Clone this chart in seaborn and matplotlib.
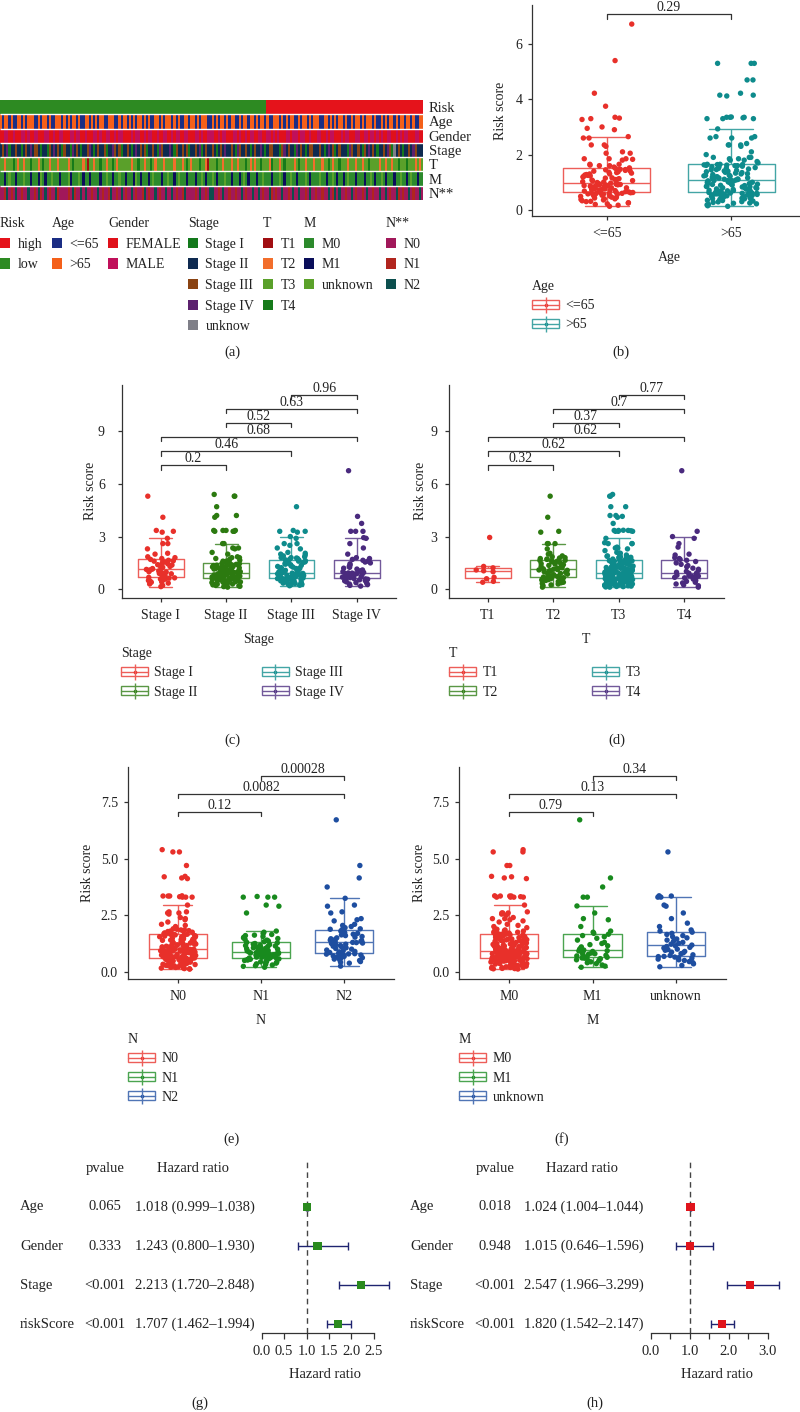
import numpy as np
import pandas as pd
import seaborn as sns
import matplotlib
matplotlib.use("Agg")
import matplotlib.pyplot as plt
from matplotlib.colors import ListedColormap, to_rgb
from matplotlib.patches import Patch
from matplotlib.lines import Line2D
from matplotlib.legend_handler import HandlerTuple
from matplotlib.transforms import blended_transform_factory


def nums(s):
    return [float(v) for v in s.split()]


def codes(s):
    return "".join(s.split())


# ---------------- data: (a) annotation heatmap, 200 samples sorted by risk ----------------
n_low, n_high = 126, 74
risk_row = "l" * n_low + "h" * n_high
age_row = codes("""oyooyoyyoo yoyoooyyoy ooyoyyoooy oyoyooyoyy ooyoyoyooy yoooyyoyoo yoyoyooyoy
oyyooyoyoo oyoyoyyooy ooyoyoooyy oyoyooyoyo oyyoyooyoo yoyooyoyyo ooyoyoyooy yoyooyoyoo
oyyooyoyoy ooyoyyoyoo yoyoooyoyy oyoyooyoyo oyooyoyyoo""")
gender_row = codes("""ffmmffmfff mmfmffmmff fmmffmffmm fffmmfmmff mfffmmfmff mmffmfmmff ffmfmmffmf
mmffmffmmf fmfmmffmmf ffmmfmffmm mffmfmmfff mmfmffmfmm ffmmffmmfm fmfffmmfmm mfmmffmfff
mmffmfmmff fmfmmfffmm ffmmfmmfmf mffmmffmfm fmmfffmmff""")
stage_row = codes("""2324122322 1232423321 2213242321 3221423212 2342123223 1224323122 3212423231
2232143222 4213223231 2232412322 3212324223 2143223212 3224212332 2213423221 4232123322
2321242312 3222143223 2132423212 232431u232 1223243222""")
t_row = codes("""3323334323 3233433323 4332333233 3323433332 3133233433 2334323333 3323343323
3432333233 3323332343 2333433213 3343323332 3323334323 2334333243 3323433332 3433233323
3323343233 4333233323 3233433332 3323323343 3343332323""")
m_row = codes("""0010u00100 0u0010001u 0100u00010 00u1000u01 0010000100 u00100u001 0001u01000
10u000100u 0010u00010 00100u0100 u01000u001 00010u0100 0100u00010 00u0100u00 1000u01000
0u00100u01 0010u00010 00100u0100 u01000100u 0010u00100""")
n_row = codes("""0012010200 1002001021 0201002100 0010210020 2001002010 0120010201 0020100120
1002010020 0201001200 0010200102 2001020010 0100201002 0020100210 1002001020 0200102001
0010020120 2001002010 0102001002 0020100210 1002010020""")

annot_names = ["Risk", "Age", "Gender", "Stage", "T", "M", "N**"]
annot_rows = [risk_row, age_row, gender_row, stage_row, t_row, m_row, n_row]
annot_keys = ["hl", "yo", "fm", "1234u", "1234", "01u", "012"]
annot_labels = [["high", "low"], ["<=65", ">65"], ["FEMALE", "MALE"],
                ["Stage I", "Stage II", "Stage III", "Stage IV", "unknow"],
                ["T1", "T2", "T3", "T4"], ["M0", "M1", "unknown"], ["N0", "N1", "N2"]]
annot_colors = [["#E5131B", "#2D8A22"], ["#1B2D84", "#F4601A"], ["#E0101A", "#C0105A"],
                ["#13791C", "#0E2A50", "#8A4312", "#5C216E", "#7F7F88"],
                ["#A10E12", "#F26E2C", "#5AA02A", "#167A1A"],
                ["#2C8A2C", "#0A0E5A", "#5BA22A"], ["#A1185A", "#B1251E", "#0C4F4E"]]

# ---------------- data: risk scores per group ----------------
age_groups = ["<=65", ">65"]
score_le65 = nums("""0.13 0.17 0.2 0.22 0.25 0.26 0.3 0.31 0.33 0.36 0.38 0.4 0.4 0.43 0.45 0.46 0.49 0.5
0.52 0.53 0.55 0.56 0.57 0.58 0.59 0.6 0.6 0.61 0.62 0.62 0.63 0.64 0.65 0.66 0.66 0.68 0.7 0.71
0.71 0.73 0.74 0.76 0.77 0.78 0.79 0.8 0.8 0.82 0.84 0.85 0.85 0.86 0.87 0.88 0.9 0.9 0.91 0.92
0.92 0.92 0.93 0.94 0.96 0.97 0.99 1.01 1.02 1.05 1.06 1.08 1.1 1.1 1.13 1.15 1.16 1.19 1.2 1.23
1.25 1.26 1.28 1.3 1.3 1.33 1.35 1.36 1.38 1.4 1.41 1.43 1.45 1.45 1.46 1.47 1.5 1.52 1.55 1.6
1.6 1.62 1.65 1.65 1.8 1.83 1.85 1.85 1.85 2.05 2.05 2.1 2.3 2.35 2.35 2.6 2.6 2.65 2.9 2.95 3.0
3.27 3.3 3.32 3.35 3.75 4.22 5.4 6.72""")
score_gt65 = nums("""0.13 0.15 0.18 0.2 0.22 0.24 0.25 0.27 0.29 0.3 0.32 0.34 0.35 0.37 0.38 0.4 0.41
0.42 0.44 0.45 0.46 0.48 0.49 0.5 0.51 0.52 0.53 0.54 0.55 0.56 0.57 0.58 0.58 0.59 0.6 0.6 0.61
0.61 0.62 0.62 0.63 0.64 0.65 0.66 0.67 0.68 0.69 0.7 0.71 0.72 0.74 0.75 0.76 0.78 0.79 0.8 0.81
0.83 0.84 0.85 0.86 0.88 0.89 0.9 0.92 0.93 0.94 0.95 0.96 0.98 0.99 1.0 1.01 1.02 1.03 1.04 1.05
1.06 1.06 1.07 1.08 1.1 1.11 1.12 1.14 1.15 1.16 1.18 1.19 1.2 1.22 1.23 1.25 1.26 1.28 1.3 1.31
1.33 1.35 1.36 1.38 1.4 1.41 1.43 1.45 1.46 1.48 1.5 1.51 1.53 1.55 1.56 1.58 1.6 1.6 1.61 1.62
1.63 1.64 1.64 1.65 1.65 1.7 1.75 1.8 1.8 1.85 1.85 1.9 1.9 1.9 2.0 2.1 2.3 2.35 2.35 2.35 2.4
2.6 2.6 2.6 2.65 2.65 2.93 3.3 3.3 3.3 3.33 3.35 3.35 3.35 3.36 4.12 4.15 4.15 4.22 4.7 4.7 5.3
5.3 5.3""")

stage_groups = ["Stage I", "Stage II", "Stage III", "Stage IV"]
score_stage1 = nums("""0.15 0.22 0.3 0.35 0.4 0.42 0.47 0.5 0.55 0.58 0.6 0.63 0.65 0.68 0.7 0.74 0.78 0.8
0.85 0.88 0.9 0.95 0.98 1.0 1.04 1.08 1.1 1.13 1.15 1.18 1.22 1.25 1.3 1.33 1.38 1.4 1.45 1.5 1.55
1.6 1.62 1.65 1.7 1.75 1.8 1.85 2.0 2.05 2.3 2.6 2.6 2.9 3.25 3.3 3.35 4.1 5.3""")
score_stage2 = nums("""0.12 0.15 0.17 0.2 0.22 0.25 0.27 0.29 0.3 0.33 0.35 0.36 0.38 0.4 0.42 0.43 0.45
0.47 0.48 0.5 0.51 0.53 0.54 0.55 0.56 0.57 0.58 0.59 0.6 0.61 0.62 0.63 0.64 0.66 0.67 0.68 0.69
0.7 0.71 0.72 0.74 0.75 0.76 0.77 0.78 0.79 0.8 0.81 0.82 0.83 0.85 0.86 0.87 0.88 0.89 0.9 0.9
0.91 0.92 0.93 0.94 0.96 0.97 0.99 1.0 1.02 1.04 1.05 1.07 1.09 1.1 1.12 1.14 1.15 1.17 1.19 1.2
1.22 1.25 1.27 1.29 1.3 1.32 1.35 1.37 1.39 1.4 1.42 1.45 1.48 1.5 1.55 1.6 1.6 1.65 1.7 1.75 1.8
1.8 1.85 2.0 2.1 2.3 2.35 2.35 2.6 2.6 3.3 3.3 3.3 3.35 3.35 3.35 3.35 4.1 4.2 4.2 4.7 5.3 5.3
5.4""")
score_stage3 = nums("""0.2 0.23 0.26 0.28 0.3 0.33 0.35 0.37 0.39 0.41 0.43 0.45 0.47 0.48 0.5 0.52 0.53
0.55 0.56 0.58 0.59 0.6 0.61 0.62 0.63 0.64 0.65 0.66 0.68 0.69 0.7 0.72 0.73 0.74 0.76 0.77 0.78
0.8 0.81 0.82 0.84 0.85 0.86 0.87 0.88 0.89 0.9 0.91 0.92 0.93 0.95 0.98 1.0 1.03 1.06 1.08 1.1
1.13 1.16 1.18 1.2 1.23 1.26 1.3 1.33 1.36 1.4 1.43 1.46 1.5 1.53 1.56 1.6 1.62 1.65 1.68 1.7 1.72
1.75 1.78 1.8 1.8 1.85 1.9 1.95 2.0 2.05 2.1 2.3 2.35 2.5 2.6 2.6 2.9 3.0 3.25 3.3 3.3 3.35 4.7""")
score_stage4 = nums("""0.18 0.22 0.27 0.3 0.35 0.38 0.42 0.45 0.48 0.5 0.54 0.57 0.59 0.61 0.63 0.66 0.69
0.72 0.74 0.77 0.8 0.82 0.85 0.87 0.89 0.9 0.92 0.93 0.96 1.0 1.05 1.1 1.15 1.2 1.25 1.3 1.38 1.45
1.5 1.55 1.6 1.65 1.7 1.75 1.8 2.0 2.35 2.6 2.9 2.94 3.3 3.3 3.3 3.75 4.15 6.75""")

t_groups = ["T1", "T2", "T3", "T4"]
score_t1 = nums("0.4 0.45 0.6 0.68 1.0 1.05 1.1 1.22 1.3 2.95")
score_t2 = nums("""0.12 0.2 0.25 0.3 0.33 0.37 0.4 0.44 0.47 0.5 0.53 0.55 0.58 0.6 0.62 0.64 0.66 0.68
0.7 0.73 0.76 0.8 0.83 0.86 0.9 0.93 0.96 1.0 1.03 1.06 1.08 1.1 1.12 1.14 1.16 1.2 1.23 1.26 1.3
1.33 1.36 1.4 1.43 1.46 1.5 1.53 1.56 1.6 1.62 1.64 1.65 1.7 1.72 1.75 1.78 1.8 1.85 1.9 2.0 2.05
2.3 2.6 2.6 2.6 3.25 3.3 4.1 5.3""")
score_t3 = nums("""0.12 0.13 0.15 0.16 0.18 0.19 0.2 0.22 0.23 0.25 0.26 0.27 0.29 0.3 0.31 0.33 0.34
0.35 0.37 0.38 0.39 0.4 0.42 0.43 0.44 0.45 0.46 0.48 0.49 0.5 0.51 0.52 0.53 0.54 0.55 0.56 0.56
0.57 0.58 0.58 0.59 0.6 0.6 0.61 0.61 0.62 0.62 0.63 0.64 0.64 0.65 0.66 0.66 0.67 0.68 0.69 0.7
0.7 0.71 0.72 0.73 0.73 0.74 0.75 0.76 0.77 0.78 0.78 0.79 0.8 0.81 0.82 0.83 0.83 0.84 0.85 0.86
0.87 0.87 0.88 0.89 0.89 0.9 0.9 0.91 0.91 0.92 0.92 0.93 0.93 0.94 0.95 0.97 0.98 1.0 1.01 1.03
1.04 1.06 1.07 1.09 1.1 1.12 1.13 1.15 1.16 1.18 1.19 1.21 1.22 1.24 1.25 1.27 1.28 1.3 1.32 1.33
1.35 1.37 1.38 1.4 1.42 1.44 1.45 1.47 1.49 1.5 1.52 1.54 1.56 1.58 1.6 1.62 1.63 1.65 1.65 1.66
1.68 1.7 1.72 1.75 1.78 1.8 1.8 1.82 1.85 1.88 1.9 1.95 2.0 2.05 2.1 2.2 2.3 2.35 2.35 2.4 2.6 2.6
2.6 2.65 2.9 3.3 3.3 3.3 3.33 3.35 3.35 3.35 3.36 3.75 4.1 4.15 4.2 4.2 4.7 4.7 5.3 5.3 5.4""")
score_t4 = nums("""0.12 0.2 0.25 0.3 0.36 0.4 0.45 0.5 0.55 0.58 0.61 0.65 0.68 0.72 0.75 0.78 0.8 0.84
0.86 0.89 0.91 0.93 0.97 1.02 1.08 1.14 1.2 1.28 1.35 1.42 1.5 1.58 1.65 1.7 1.75 1.8 1.95 2.0 2.4
2.6 2.9 3.0 3.3 6.75""")

n_groups = ["N0", "N1", "N2"]
score_n0 = nums("""0.12 0.13 0.14 0.16 0.17 0.19 0.2 0.22 0.23 0.25 0.26 0.28 0.29 0.3 0.32 0.33 0.35
0.36 0.37 0.39 0.4 0.41 0.43 0.44 0.45 0.47 0.48 0.49 0.5 0.51 0.52 0.53 0.54 0.55 0.56 0.57 0.58
0.58 0.59 0.6 0.6 0.61 0.61 0.62 0.63 0.64 0.65 0.66 0.67 0.68 0.69 0.7 0.71 0.72 0.73 0.74 0.75
0.76 0.77 0.78 0.79 0.8 0.81 0.82 0.83 0.84 0.85 0.86 0.87 0.88 0.89 0.9 0.91 0.92 0.93 0.94 0.95
0.96 0.97 0.97 0.98 0.99 0.99 1.0 1.0 1.01 1.01 1.02 1.03 1.05 1.06 1.08 1.09 1.1 1.12 1.13 1.15
1.16 1.18 1.19 1.2 1.22 1.23 1.25 1.27 1.28 1.3 1.31 1.33 1.34 1.36 1.38 1.39 1.4 1.42 1.44 1.45
1.47 1.49 1.5 1.52 1.54 1.55 1.57 1.58 1.6 1.6 1.61 1.62 1.63 1.65 1.66 1.66 1.67 1.68 1.7 1.72
1.75 1.75 1.78 1.8 1.8 1.82 1.85 1.85 1.88 1.9 2.0 2.05 2.1 2.2 2.3 2.35 2.4 2.55 2.6 2.6 2.65 2.65
2.95 3.3 3.3 3.3 3.32 3.35 3.35 3.35 3.36 4.12 4.15 4.2 4.22 4.7 5.3 5.3 5.4""")
score_n1 = nums("""0.2 0.24 0.27 0.3 0.33 0.35 0.38 0.4 0.42 0.44 0.46 0.48 0.5 0.52 0.54 0.55 0.57 0.58
0.59 0.6 0.61 0.62 0.64 0.65 0.67 0.68 0.7 0.71 0.72 0.74 0.75 0.76 0.78 0.79 0.8 0.81 0.82 0.83
0.84 0.85 0.86 0.87 0.88 0.9 0.92 0.94 0.96 0.98 1.0 1.02 1.04 1.06 1.08 1.1 1.12 1.14 1.16 1.18
1.2 1.22 1.25 1.28 1.3 1.33 1.36 1.4 1.43 1.47 1.5 1.53 1.56 1.6 1.62 1.65 1.7 1.75 1.8 2.6 2.9
2.95 3.3 3.3 3.3 3.33""")
score_n2 = nums("""0.25 0.38 0.42 0.45 0.5 0.53 0.56 0.6 0.62 0.65 0.68 0.7 0.72 0.74 0.76 0.78 0.79 0.8
0.82 0.85 0.88 0.9 0.93 0.96 1.0 1.03 1.06 1.1 1.13 1.16 1.19 1.22 1.25 1.27 1.29 1.3 1.32 1.35
1.38 1.4 1.43 1.46 1.5 1.53 1.56 1.6 1.63 1.66 1.7 1.73 1.76 1.8 1.83 1.86 1.88 1.9 1.95 2.0 2.05
2.1 2.25 2.3 2.35 2.6 2.65 2.9 2.95 3.25 3.75 4.15 4.7 6.72""")

m_groups = ["M0", "M1", "unknown"]
score_m0 = nums("""0.12 0.13 0.14 0.15 0.16 0.18 0.19 0.2 0.21 0.22 0.24 0.25 0.26 0.27 0.28 0.3 0.31
0.32 0.33 0.34 0.36 0.37 0.38 0.39 0.4 0.41 0.42 0.43 0.44 0.45 0.46 0.47 0.48 0.49 0.5 0.51 0.52
0.53 0.54 0.55 0.56 0.57 0.57 0.58 0.59 0.59 0.6 0.6 0.61 0.62 0.62 0.63 0.63 0.64 0.65 0.65 0.66
0.67 0.67 0.68 0.69 0.69 0.7 0.71 0.71 0.72 0.73 0.73 0.74 0.75 0.75 0.76 0.77 0.77 0.78 0.79 0.79
0.8 0.81 0.81 0.82 0.83 0.83 0.84 0.85 0.85 0.86 0.87 0.87 0.88 0.89 0.89 0.9 0.9 0.91 0.91 0.92
0.92 0.93 0.93 0.94 0.95 0.97 0.98 0.99 1.01 1.02 1.04 1.05 1.07 1.08 1.1 1.11 1.12 1.14 1.15 1.17
1.18 1.2 1.21 1.23 1.24 1.26 1.27 1.29 1.3 1.32 1.33 1.35 1.36 1.38 1.39 1.41 1.42 1.44 1.45 1.47
1.48 1.5 1.51 1.53 1.54 1.56 1.57 1.59 1.6 1.61 1.63 1.64 1.66 1.66 1.67 1.68 1.7 1.71 1.73 1.75
1.77 1.8 1.8 1.82 1.85 1.85 1.88 1.9 1.95 2.0 2.05 2.1 2.2 2.25 2.3 2.35 2.35 2.4 2.5 2.55 2.6 2.6
2.6 2.65 2.95 3.3 3.3 3.3 3.3 3.32 3.35 3.35 3.35 3.36 4.12 4.15 4.2 4.22 4.7 4.7 5.3 5.3 5.4""")
score_m1 = nums("""0.2 0.25 0.3 0.36 0.4 0.44 0.48 0.5 0.53 0.56 0.58 0.6 0.61 0.64 0.67 0.7 0.73 0.76
0.78 0.8 0.83 0.86 0.88 0.9 0.92 0.93 0.96 1.0 1.05 1.1 1.15 1.2 1.25 1.3 1.4 1.48 1.55 1.6 1.66
1.7 1.75 1.8 2.0 2.3 2.35 2.6 2.91 3.3 3.3 3.75 4.15 6.72""")
score_munk = nums("""0.22 0.28 0.35 0.4 0.45 0.5 0.53 0.56 0.6 0.62 0.65 0.67 0.68 0.72 0.75 0.8 0.84
0.87 0.9 0.95 0.98 1.0 1.05 1.08 1.12 1.15 1.18 1.22 1.26 1.3 1.35 1.4 1.45 1.5 1.55 1.6 1.65 1.7
1.75 1.8 1.85 2.0 2.15 2.35 2.6 2.9 2.95 3.3 3.3 3.35 3.36 5.3""")

# pairwise p-values (group i, group j, label)
age_tests = [(0, 1, "0.29")]
stage_tests = [(0, 1, "0.2"), (0, 2, "0.46"), (0, 3, "0.68"), (1, 2, "0.52"), (1, 3, "0.63"), (2, 3, "0.96")]
t_tests = [(0, 1, "0.32"), (0, 2, "0.62"), (0, 3, "0.62"), (1, 2, "0.37"), (1, 3, "0.7"), (2, 3, "0.77")]
n_tests = [(0, 1, "0.12"), (0, 2, "0.0082"), (1, 2, "0.00028")]
m_tests = [(0, 1, "0.79"), (0, 2, "0.13"), (1, 2, "0.34")]

# ---------------- data: Cox regression ----------------
cox_vars = ["Age", "Gender", "Stage", "riskScore"]
uni_p = ["0.065", "0.333", "<0.001", "<0.001"]
uni_hr = [1.018, 1.243, 2.213, 1.707]
uni_lo = [0.999, 0.800, 1.720, 1.462]
uni_hi = [1.038, 1.930, 2.848, 1.994]
multi_p = ["0.018", "0.948", "<0.001", "<0.001"]
multi_hr = [1.024, 1.015, 2.547, 1.820]
multi_lo = [1.004, 0.646, 1.966, 1.542]
multi_hi = [1.044, 1.596, 3.299, 2.147]

# ---------------- style ----------------
sns.set_theme(style="ticks")
plt.rcParams["font.family"] = ["Liberation Serif", "DejaVu Serif"]
plt.rcParams["font.size"] = 10
plt.rcParams["axes.edgecolor"] = "#333333"
plt.rcParams["axes.linewidth"] = 0.9
plt.rcParams["xtick.color"] = "#333333"
plt.rcParams["ytick.color"] = "#333333"
plt.rcParams["xtick.labelcolor"] = "#222222"
plt.rcParams["ytick.labelcolor"] = "#222222"
plt.rcParams["text.color"] = "#222222"
plt.rcParams["axes.labelcolor"] = "#222222"

W, H = 800, 1412
fig = plt.figure(figsize=(W / 100, H / 100), dpi=100)
fig.patch.set_facecolor("white")
np.random.seed(3)


def box(l, t, r, b):
    return [l / W, 1 - b / H, (r - l) / W, (b - t) / H]


def lighten(c, f=0.22):
    r, g, b = to_rgb(c)
    return (r + (1 - r) * f, g + (1 - g) * f, b + (1 - b) * f)


def caption(x, y, s):
    fig.text(x / W, 1 - y / H, s, ha="center", va="center", fontsize=10.5)


# ---------------- (a) heatmap ----------------
all_colors = [c for cols in annot_colors for c in cols]
mat, off = [], 0
for row, keys, cols in zip(annot_rows, annot_keys, annot_colors):
    mat.append([off + keys.index(ch) for ch in row])
    off += len(cols)
mat = np.array(mat)

ax = fig.add_axes(box(0, 100, 423, 200))
sns.heatmap(mat, ax=ax, cmap=ListedColormap(all_colors), vmin=-0.5, vmax=len(all_colors) - 0.5,
            cbar=False, xticklabels=False, yticklabels=annot_names)
ax.hlines(np.arange(1, len(annot_names)), 0, mat.shape[1], colors="white", lw=1)
ax.yaxis.tick_right()
ax.tick_params(axis="y", length=0, pad=4, labelsize=10.5, labelrotation=0)
ax.tick_params(axis="x", length=0)

leg_x = [0, 52, 108, 188, 263, 304, 386]
for name, labels, cols, lx in zip(annot_names, annot_labels, annot_colors, leg_x):
    handles = [Patch(facecolor=c, edgecolor="none") for c in cols]
    fig.legend(handles, labels, title=name, loc="upper left",
               bbox_to_anchor=(lx / W, 1 - 217 / H), bbox_transform=fig.transFigure,
               frameon=False, borderpad=0, borderaxespad=0, handlelength=0.75,
               handleheight=0.75, handletextpad=0.5, labelspacing=0.55,
               fontsize=10, title_fontsize=10, alignment="left")
caption(232, 352, "(a)")


# ---------------- (b)-(f) box plots ----------------
def box_panel(rect, groups, values, name, colors, ylim, yticks, yfmt, tests, leg_xy,
              ncol=1, colspace=2.0, ypad=4, ylabpad=6):
    df = pd.DataFrame({name: np.repeat(groups, [len(v) for v in values]),
                       "score": np.concatenate(values)})
    pal = dict(zip(groups, colors))
    bpal = {g: lighten(c) for g, c in pal.items()}
    ax = fig.add_axes(rect)
    sns.boxplot(data=df, x=name, y="score", hue=name, order=groups, hue_order=groups,
                palette=bpal, fill=False, width=0.7, showfliers=False, linewidth=1.0,
                legend=False, ax=ax)
    sns.stripplot(data=df, x=name, y="score", hue=name, order=groups, hue_order=groups,
                  palette=pal, jitter=0.22, size=3.9, linewidth=0, legend=False, ax=ax,
                  zorder=3)
    ax.set_xlim(-0.6, len(groups) - 0.4)
    ax.set_ylim(*ylim)
    ax.set_yticks(yticks)
    ax.set_yticklabels([yfmt.format(t) for t in yticks])
    sns.despine(ax=ax)
    ax.tick_params(axis="both", length=3, width=0.9, labelsize=10)
    ax.tick_params(axis="x", pad=5)
    ax.tick_params(axis="y", pad=ypad)
    ax.set_xlabel(name, fontsize=10, labelpad=8)
    ax.set_ylabel("Risk score", fontsize=10, labelpad=ylabpad)

    drop = 0.022 * (ylim[1] - ylim[0])
    for k, (i, j, lab) in enumerate(tests):
        yb = 7.08 + 0.8 * k
        ax.plot([i, i, j, j], [yb - drop, yb, yb, yb - drop], color="#333333", lw=0.9,
                clip_on=False, zorder=4)
        ax.text((i + j) / 2, yb - 0.02 * drop, lab, ha="center", va="bottom", fontsize=10,
                clip_on=False, zorder=5)

    handles = [(Patch(facecolor="white", edgecolor=bpal[g], lw=1.0),
                Line2D([], [], color=bpal[g], lw=1.0, marker="o", markersize=2.6,
                       markerfacecolor=pal[g], markeredgewidth=0),
                Line2D([], [], color=bpal[g], marker="|", markersize=11, ls="none", mew=1.0))
               for g in groups]
    ax.legend(handles, groups, title=name, loc="upper left",
              bbox_to_anchor=(leg_xy[0] / W, 1 - leg_xy[1] / H),
              bbox_transform=fig.transFigure, frameon=False, borderpad=0,
              borderaxespad=0, handlelength=1.95, handleheight=0.6,
              handletextpad=0.45, labelspacing=0.45, fontsize=10, title_fontsize=10,
              alignment="left", ncol=ncol, columnspacing=colspace,
              handler_map={tuple: HandlerTuple(ndivide=1, pad=0)})
    return ax


red = "#E8302A"
box_panel(box(532, 5, 806, 216), age_groups, [score_le65, score_gt65], "Age",
          [red, "#0E8B8C"], (-0.22, 7.41), [0, 2, 4, 6], "{:g}", age_tests, (532, 280))
caption(621, 352, "(b)")

pal4 = [red, "#2C7A10", "#0E8B8C", "#4A2A7E"]
box_panel(box(121.5, 385, 396, 597.7), stage_groups,
          [score_stage1, score_stage2, score_stage3, score_stage4], "Stage", pal4,
          (-0.48, 11.63), [0, 3, 6, 9], "{:g}", stage_tests, (121, 647), ncol=2,
          colspace=4.6, ypad=9, ylabpad=0.5)
caption(232, 740, "(c)")

box_panel(box(448.5, 385, 723.5, 597.7), t_groups, [score_t1, score_t2, score_t3, score_t4],
          "T", pal4, (-0.48, 11.63), [0, 3, 6, 9], "{:g}", t_tests, (449, 647), ncol=2,
          colspace=6.8, ypad=5, ylabpad=2.5)
caption(617, 740, "(d)")

pal3 = [red, "#188A1E", "#1E4EA0"]
box_panel(box(127.7, 766.7, 394.3, 979), n_groups, [score_n0, score_n1, score_n2], "N",
          pal3, (-0.32, 9.07), [0, 2.5, 5, 7.5], "{:.1f}", n_tests, (128, 1033),
          ylabpad=5)
caption(231, 1139, "(e)")

box_panel(box(459, 766.7, 726, 979), m_groups, [score_m0, score_m1, score_munk], "M",
          pal3, (-0.32, 9.07), [0, 2.5, 5, 7.5], "{:.1f}", m_tests, (459, 1033),
          ylabpad=4)
caption(562, 1139, "(f)")


# ---------------- (g)-(h) forest plots ----------------
def forest(rect, xlim, major, minor, pvals, hr, lo, hi, color, col_x):
    ax = fig.add_axes(rect)
    ys = np.arange(len(cox_vars), 0, -1)
    hr, lo, hi = np.array(hr), np.array(lo), np.array(hi)
    ax.axvline(1, color="#444444", lw=1.0, ls=(0, (4, 3)), zorder=1)
    ax.errorbar(hr, ys, xerr=[hr - lo, hi - hr], fmt="none", ecolor="#1F2470",
                elinewidth=1.0, capsize=2.6, capthick=1.0, zorder=2)
    sns.scatterplot(x=hr, y=ys, marker="s", s=36, color=color, edgecolor="none", ax=ax,
                    zorder=3)
    ax.set_xlim(*xlim)
    ax.set_ylim(0.786, 5.2)
    ax.set_yticks([])
    for sp in ["left", "right", "top"]:
        ax.spines[sp].set_visible(False)
    ax.spines["bottom"].set_bounds(major[0], major[-1])
    ax.set_xticks(major)
    ax.set_xticklabels(["{:.1f}".format(t) for t in major])
    ax.set_xticks(minor, minor=True)
    ax.tick_params(axis="x", which="both", length=4, width=0.9, labelsize=10.5, pad=5)
    ax.set_xlabel("Hazard ratio", fontsize=10.5, labelpad=7)

    tr = blended_transform_factory(fig.transFigure, ax.transData)
    ax.text(col_x[1] / W, 4.99, "pvalue", transform=tr, ha="center", va="center",
            fontsize=10.5)
    ax.text(col_x[3] / W, 4.99, "Hazard ratio", transform=tr, ha="center", va="center",
            fontsize=10.5)
    for y, v, p, h, l, u in zip(ys, cox_vars, pvals, hr, lo, hi):
        ax.text(col_x[0] / W, y, v, transform=tr, ha="left", va="center", fontsize=10.5)
        ax.text(col_x[1] / W, y, p, transform=tr, ha="center", va="center", fontsize=10.5)
        ax.text(col_x[2] / W, y, "{:.3f} ({:.3f}\u2013{:.3f})".format(h, l, u),
                transform=tr, ha="left", va="center", fontsize=10.5)
    return ax


forest(box(255, 1160, 395, 1332.7), (-0.15, 2.975), [0, 0.5, 1.0, 1.5, 2.0, 2.5], [],
       uni_p, uni_hr, uni_lo, uni_hi, "#2A8A1E", (20, 105, 135, 193))
caption(200, 1403, "(g)")

forest(box(644, 1160, 790, 1332.7), (-0.172, 3.572), [0, 1.0, 2.0, 3.0], [0.5, 1.5, 2.5],
       multi_p, multi_hr, multi_lo, multi_hi, "#E0141C", (410, 495, 524, 582))
caption(595, 1403, "(h)")

fig.savefig("out.png", dpi=100, facecolor="white")
